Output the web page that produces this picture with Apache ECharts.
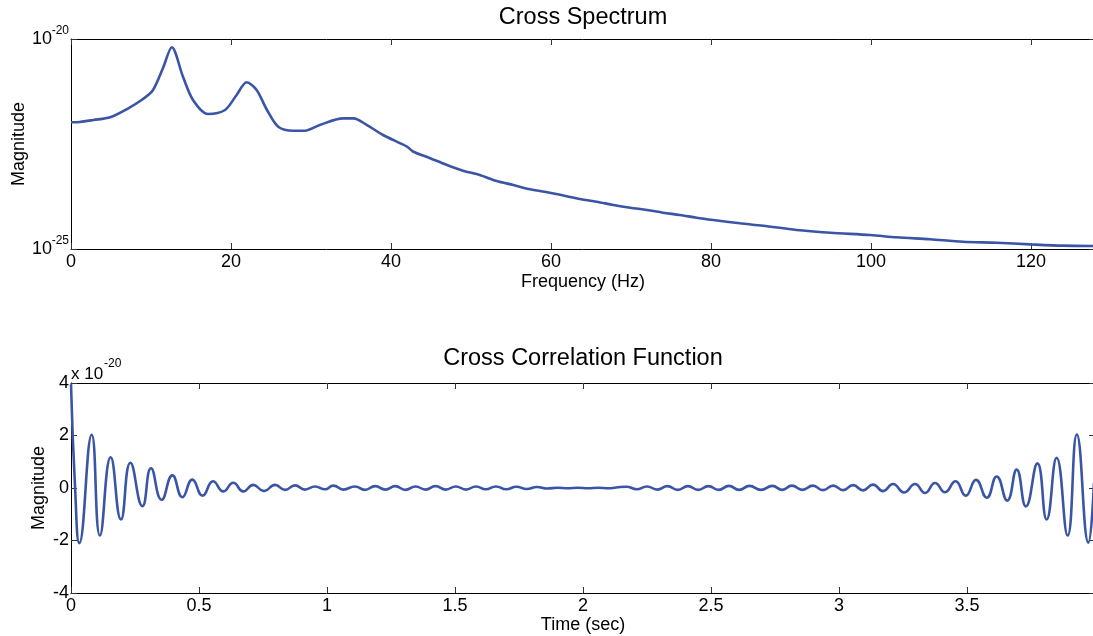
<!DOCTYPE html>
<html>
<head>
<meta charset="utf-8">
<script src="https://cdn.jsdelivr.net/npm/echarts@6/dist/echarts.min.js"></script>
<style>
html,body{margin:0;padding:0;background:#fff;}
#chart{width:1093px;height:636px;}
</style>
</head>
<body>
<div id="chart"></div>
<script>
// ---- Cross spectrum (top) ----
const specFreq = [0, 1.1, 2.8, 4.9, 7.0, 9.0, 10.25, 11.5, 12.6, 14.0, 15.25, 17.1, 19.25, 20.7, 21.96, 23.2, 24.5, 25.9, 27.8, 29.25, 31.1, 34.0, 35.3, 37.0, 39.0, 42.0, 42.8, 44.9, 47.0, 49.0, 51.1, 53.2, 55.3, 57.4, 60.2, 63.6, 65.7, 67.8, 69.9, 72.0, 74.0, 76.1, 78.2, 80.3, 83.6, 86.5, 90.7, 94.9, 99.9, 103.2, 107.4, 111.5, 115.7, 119.9, 124.0, 127.9];
const specMag = [1.04e-22, 1.06e-22, 1.18e-22, 1.37e-22, 2.15e-22, 3.72e-22, 6.11e-22, 2.04e-21, 6.34e-21, 1.26e-21, 3.53e-22, 1.64e-22, 2.04e-22, 4.65e-22, 9.31e-22, 6.11e-22, 2.04e-22, 8.17e-23, 6.56e-23, 6.56e-23, 8.95e-23, 1.29e-22, 1.29e-22, 8.95e-23, 5.18e-23, 2.73e-23, 2.07e-23, 1.45e-23, 1.0e-23, 7.31e-24, 5.78e-24, 4.16e-24, 3.34e-24, 2.64e-24, 2.12e-24, 1.55e-24, 1.34e-24, 1.12e-24, 9.62e-25, 8.49e-25, 7.31e-25, 6.46e-25, 5.56e-25, 4.90e-25, 4.09e-25, 3.59e-25, 2.83e-25, 2.44e-25, 2.15e-25, 1.90e-25, 1.70e-25, 1.49e-25, 1.41e-25, 1.29e-25, 1.20e-25, 1.18e-25];
const specXTicks = [0, 20, 40, 60, 80, 100, 120];
const specYExponents = [-25, -20];   // decade tick labels 10^-25 and 10^-20

// ---- Cross correlation function (bottom), values in units of 1e-20 ----
const ccfTime = [0, 0.016, 0.0326, 0.0807, 0.113, 0.155, 0.195, 0.232, 0.279, 0.3125, 0.354, 0.396, 0.435, 0.474, 0.514, 0.555, 0.595, 0.634, 0.673, 0.712, 0.754, 0.797, 0.836, 0.875, 0.914, 0.953, 0.992, 1.025, 1.064, 1.109, 1.148, 1.188, 1.228, 1.267, 1.306, 1.346, 1.385, 1.424, 1.464, 1.503, 1.543, 1.582, 1.62, 1.66, 1.70, 1.74, 1.78, 1.82, 1.86, 1.90, 1.94, 1.98, 2.02, 2.06, 2.10, 2.13, 2.17, 2.21, 2.25, 2.29, 2.33, 2.37, 2.41, 2.45, 2.49, 2.53, 2.57, 2.61, 2.65, 2.695, 2.74, 2.778, 2.816, 2.857, 2.898, 2.937, 2.977, 3.016, 3.055, 3.094, 3.133, 3.172, 3.211, 3.254, 3.297, 3.336, 3.375, 3.414, 3.455, 3.495, 3.535, 3.577, 3.616, 3.657, 3.694, 3.730, 3.775, 3.811, 3.850, 3.893, 3.929, 3.974, 3.996];
const ccfValue = [3.95, 0.0, -2.10, 2.03, -1.81, 1.17, -1.20, 0.96, -0.69, 0.75, -0.45, 0.48, -0.35, 0.32, -0.29, 0.26, -0.13, 0.20, -0.13, 0.12, -0.12, 0.12, -0.07, 0.10, -0.06, 0.06, -0.05, 0.09, -0.06, 0.06, -0.07, 0.07, -0.06, 0.07, -0.07, 0.06, -0.06, 0.07, -0.06, 0.06, -0.06, 0.06, -0.05, 0.06, -0.05, 0.05, -0.04, 0.04, -0.02, 0.01, -0.01, 0.01, -0.01, 0.01, -0.01, 0.02, 0.05, -0.05, 0.06, -0.06, 0.07, -0.07, 0.07, -0.07, 0.07, -0.07, 0.08, -0.07, 0.08, -0.07, 0.08, -0.07, 0.09, -0.07, 0.09, -0.08, 0.09, -0.08, 0.11, -0.09, 0.13, -0.12, 0.15, -0.17, 0.15, -0.19, 0.19, -0.16, 0.26, -0.29, 0.31, -0.37, 0.44, -0.48, 0.70, -0.70, 0.94, -1.20, 1.15, -1.81, 2.04, -2.08, 0.2];
const ccfXTicks = [0, 0.5, 1, 1.5, 2, 2.5, 3, 3.5];
const ccfYTicks = [-4, -2, 0, 2, 4];
const ccfScaleExponent = -20;

const FONT = 'Liberation Sans, Arial, Helvetica, sans-serif';
const LINE_COLOR = '#3a55a6';

const chart = echarts.init(document.getElementById('chart'), null, {renderer: 'canvas'});

function boxAxisCommon() {
  return {
    nameMoveOverlap: false,
    axisLine: {show: true, onZero: false, lineStyle: {color: '#000', width: 1}},
    axisTick: {show: true, inside: true, length: 6, lineStyle: {color: '#333', width: 1}},
    splitLine: {show: false}
  };
}

const tickLabelStyle = {color: '#000', fontSize: 18, fontFamily: FONT};
const nameStyle = {color: '#000', fontSize: 18, fontFamily: FONT};
// the top panel's magnitude axis is logarithmic: plot decades (log10) on the value scale
const decMin = specYExponents[0];
const decMax = specYExponents[specYExponents.length - 1];
const decInterval = decMax - decMin;

const option = {
  animation: false,
  backgroundColor: '#fff',
  grid: [
    {left: 71, right: -2, top: 39, height: 210, containLabel: false, outerBoundsMode: 'none'},
    {left: 71, right: -2, top: 383, height: 210, containLabel: false, outerBoundsMode: 'none'}
  ],
  xAxis: [
    Object.assign(boxAxisCommon(), {
      gridIndex: 0, type: 'value', position: 'bottom',
      min: specXTicks[0], max: 128, interval: 20,
      axisLabel: Object.assign({show: true, margin: 4, showMinLabel: true, showMaxLabel: false,
        formatter: v => specXTicks.indexOf(v) >= 0 ? String(v) : ''}, tickLabelStyle),
      name: 'Frequency (Hz)', nameLocation: 'middle', nameGap: 24, nameTextStyle: nameStyle
    }),
    Object.assign(boxAxisCommon(), {
      gridIndex: 0, type: 'value', position: 'top',
      min: specXTicks[0], max: 128, interval: 20,
      axisLabel: {show: false}
    }),
    Object.assign(boxAxisCommon(), {
      gridIndex: 1, type: 'value', position: 'bottom',
      min: ccfXTicks[0], max: 4, interval: 0.5,
      axisLabel: Object.assign({show: true, margin: 4, showMinLabel: true, showMaxLabel: false,
        formatter: v => ccfXTicks.indexOf(v) >= 0 ? String(v) : ''}, tickLabelStyle),
      name: 'Time (sec)', nameLocation: 'middle', nameGap: 23, nameTextStyle: nameStyle
    }),
    Object.assign(boxAxisCommon(), {
      gridIndex: 1, type: 'value', position: 'top',
      min: ccfXTicks[0], max: 4, interval: 0.5,
      axisLabel: {show: false}
    })
  ],
  yAxis: [
    // 0: top-left decade axis, shows the base "10"
    Object.assign(boxAxisCommon(), {
      gridIndex: 0, type: 'value', position: 'left',
      min: decMin, max: decMax, interval: decInterval,
      axisLabel: {
        show: true, margin: 19, showMinLabel: true, showMaxLabel: true,
        color: '#000', fontFamily: FONT, fontSize: 18, padding: [10, 0, 0, 0],
        formatter: v => specYExponents.indexOf(v) >= 0 ? '10' : ''
      },
      name: 'Magnitude', nameLocation: 'middle', nameGap: 43, nameRotate: 90, nameTextStyle: nameStyle
    }),
    // 1: top-right (box side)
    Object.assign(boxAxisCommon(), {
      gridIndex: 0, type: 'value', position: 'right',
      min: decMin, max: decMax, interval: decInterval,
      axisLabel: {show: false}
    }),
    // 2: bottom-left linear axis
    Object.assign(boxAxisCommon(), {
      gridIndex: 1, type: 'value', position: 'left',
      min: ccfYTicks[0], max: ccfYTicks[ccfYTicks.length - 1], interval: 2,
      axisLabel: Object.assign({show: true, margin: 2, showMinLabel: true, showMaxLabel: true}, tickLabelStyle),
      name: 'Magnitude', nameLocation: 'middle', nameGap: 23, nameRotate: 90, nameTextStyle: nameStyle
    }),
    // 3: bottom-right (box side)
    Object.assign(boxAxisCommon(), {
      gridIndex: 1, type: 'value', position: 'right',
      min: ccfYTicks[0], max: ccfYTicks[ccfYTicks.length - 1], interval: 2,
      axisLabel: {show: false}
    }),
    // 4: top-left decade axis, shows the exponent as a superscript
    {
      gridIndex: 0, type: 'value', position: 'left',
      min: decMin, max: decMax, interval: decInterval,
      axisLine: {show: false}, axisTick: {show: false}, splitLine: {show: false},
      axisLabel: {
        show: true, margin: 2, showMinLabel: true, showMaxLabel: true,
        color: '#000', fontFamily: FONT, fontSize: 12, verticalAlign: 'bottom', padding: [0, 0, 2, 0],
        formatter: v => specYExponents.indexOf(v) >= 0 ? String(v) : ''
      }
    }
  ],
  graphic: [
    {type: 'text', x: 583, y: 18, silent: true,
      style: {text: 'Cross Spectrum', fill: '#000', fontSize: 23.5, fontFamily: FONT,
        align: 'center', verticalAlign: 'middle', textAlign: 'center', textVerticalAlign: 'middle'}},
    {type: 'text', x: 583, y: 359, silent: true,
      style: {text: 'Cross Correlation Function', fill: '#000', fontSize: 23.5, fontFamily: FONT,
        align: 'center', verticalAlign: 'middle', textAlign: 'center', textVerticalAlign: 'middle'}},
    {type: 'text', x: 71, y: 374, silent: true,
      style: {text: 'x 10', fill: '#000', fontSize: 17, fontFamily: FONT,
        align: 'left', verticalAlign: 'middle', textAlign: 'left', textVerticalAlign: 'middle'}},
    {type: 'text', x: 104, y: 364, silent: true,
      style: {text: String(ccfScaleExponent), fill: '#000', fontSize: 12, fontFamily: FONT,
        align: 'left', verticalAlign: 'middle', textAlign: 'left', textVerticalAlign: 'middle'}}
  ],
  series: [
    {
      type: 'line', xAxisIndex: 0, yAxisIndex: 0,
      data: specFreq.map((f, i) => [f, Math.log10(specMag[i])]),
      showSymbol: false, symbol: 'none', smooth: 0.3, clip: true,
      lineStyle: {color: LINE_COLOR, width: 2.6}
    },
    {
      type: 'line', xAxisIndex: 2, yAxisIndex: 2,
      data: ccfTime.map((t, i) => [t, ccfValue[i]]),
      showSymbol: false, symbol: 'none', smooth: 0.5, clip: true,
      lineStyle: {color: LINE_COLOR, width: 2.6}
    }
  ]
};

chart.setOption(option);
</script>
</body>
</html>
